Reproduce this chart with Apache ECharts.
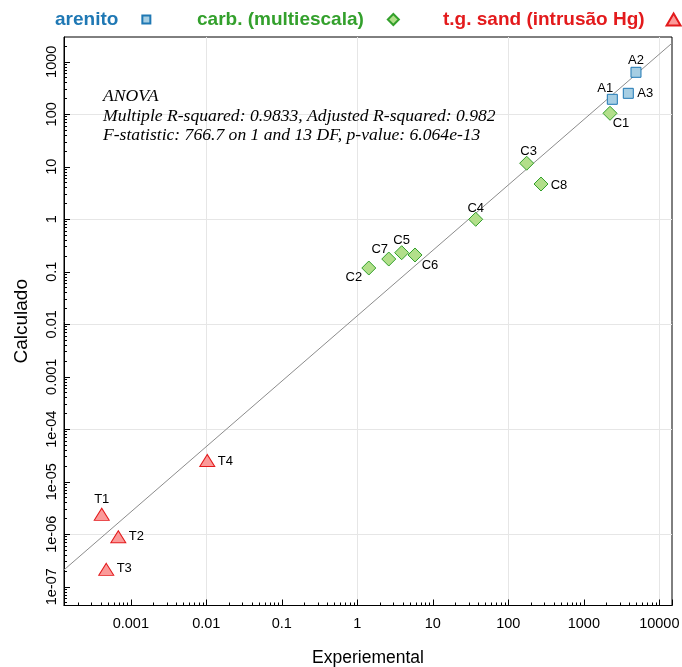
<!DOCTYPE html>
<html><head><meta charset="utf-8">
<script src="https://cdn.jsdelivr.net/npm/echarts@6/dist/echarts.min.js"></script>
<style>html,body{margin:0;padding:0;background:#fff}#c{width:682px;height:667px}</style>
</head><body><div id="c"></div>
<script>
// ---- data ----
const seriesNames = ['arenito', 'carb. (multiescala)', 't.g. sand (intrusão Hg)'];
const arenitoLabels = ['A1', 'A2', 'A3'];
const arenitoX = [2385, 4910, 3883];
const arenitoY = [193, 631, 251];
const carbLabels = ['C1', 'C2', 'C3', 'C4', 'C5', 'C6', 'C7', 'C8'];
const carbX = [2223, 1.42, 175, 37, 3.87, 5.81, 2.61, 271];
const carbY = [104.5, 0.118, 11.7, 1.0, 0.231, 0.209, 0.175, 4.7];
const sandLabels = ['T1', 'T2', 'T3', 'T4'];
const sandX = [4.12e-4, 6.83e-4, 4.73e-4, 0.0103];
const sandY = [2.4e-6, 9.0e-7, 2.15e-7, 2.55e-5];
const fitX = [1.304e-4, 14720];
const fitY = [2.1e-7, 2265];
const xTickLabels = ['0.001', '0.01', '0.1', '1', '10', '100', '1000', '10000'];
const yTickLabels = ['1e-07', '1e-06', '1e-05', '1e-04', '0.001', '0.01', '0.1', '1', '10', '100', '1000'];
const anovaLines = ['ANOVA', 'Multiple R-squared: 0.9833, Adjusted R-squared: 0.982', 'F-statistic: 766.7 on 1 and 13 DF, p-value: 6.064e-13'];
const xTitle = 'Experiemental';
const yTitle = 'Calculado';
const yRange = [4.40e-8, 2968];

// ---- styles ----
const labelOffset = {
  A1: [-7, -11], A2: [0, -12], A3: [17, 0],
  C1: [11, 10], C2: [-15, 9], C3: [2, -12], C4: [0, -11], C5: [0, -12], C6: [15, 10], C7: [-9, -10], C8: [18, 1],
  T1: [0, -15], T2: [18, 0], T3: [18, -1], T4: [18, 1]
};
const styles = [
  { symbol: 'rect', size: [10, 10], fill: '#a6cee3', stroke: '#1f78b4', text: '#1f78b4', legendLeft: 55, legendIcon: [8, 8], legendPad: 19 },
  { symbol: 'diamond', size: [14, 14], fill: '#b2df8a', stroke: '#33a02c', text: '#33a02c', legendLeft: 197, legendIcon: [11, 11], legendPad: 19 },
  { symbol: 'triangle', size: [15, 12], fill: '#fb9a99', stroke: '#e31a1c', text: '#e31a1c', legendLeft: 443, legendIcon: [14, 12], legendPad: 17 }
];
const font = '"Liberation Sans", Arial, sans-serif';

function pts(xs, ys, labels) {
  return xs.map((x, i) => ({
    value: [x, ys[i]], name: labels[i],
    label: { offset: labelOffset[labels[i]] }
  }));
}
function labelFor(list) {
  return function (v) {
    for (let i = 0; i < list.length; i++) {
      if (Math.abs(Math.log10(v) - Math.log10(Number(list[i]))) < 1e-6) return list[i];
    }
    return '';
  };
}
// minor tick positions (2..9 per decade) inside an axis range
function minorTicks(range) {
  const out = [];
  const e0 = Math.floor(Math.log10(range[0])), e1 = Math.ceil(Math.log10(range[1]));
  for (let e = e0; e <= e1; e++) {
    for (let m = 2; m <= 9; m++) {
      const v = parseFloat((m * Math.pow(10, e)).toPrecision(12));
      if (v > range[0] && v < range[1]) out.push(v);
    }
  }
  return out;
}
const yMajor = yTickLabels.map(Number);

const groups = [
  pts(arenitoX, arenitoY, arenitoLabels),
  pts(carbX, carbY, carbLabels),
  pts(sandX, sandY, sandLabels)
];

const scatterSeries = groups.map((d, k) => ({
  name: seriesNames[k], type: 'scatter', data: d, z: 5,
  symbol: styles[k].symbol, symbolSize: styles[k].size,
  itemStyle: { color: styles[k].fill, borderColor: styles[k].stroke, borderWidth: 1, opacity: 1 },
  label: { show: true, position: 'inside', formatter: '{b}', color: '#000', fontSize: 13, fontFamily: font, textBorderWidth: 0 },
  emphasis: { disabled: true }
}));

const legends = seriesNames.map((n, k) => ({
  left: styles[k].legendLeft, top: 10, padding: 0, orient: 'horizontal', align: 'right',
  itemWidth: styles[k].legendIcon[0], itemHeight: styles[k].legendIcon[1], selectedMode: false,
  textStyle: { fontSize: 19, fontWeight: 'bold', fontFamily: font, color: styles[k].text, padding: [0, styles[k].legendPad, 0, 0] },
  data: [{ name: n }]
}));

const yAxisCommon = {
  type: 'log', logBase: 10, min: yRange[0], max: yRange[1], position: 'left'
};

const chart = echarts.init(document.getElementById('c'), null, { renderer: 'canvas' });
chart.setOption({
  animation: false,
  backgroundColor: '#fff',
  grid: { left: 64, right: 10, top: 37, bottom: 61.5, containLabel: false, outerBoundsMode: 'none', show: true, borderColor: '#000', borderWidth: 1, backgroundColor: 'transparent' },
  legend: legends,
  xAxis: {
    type: 'log', logBase: 10, min: fitX[0], max: fitX[1], splitNumber: 8,
    name: xTitle, nameLocation: 'middle', nameGap: 44,
    nameTextStyle: { fontSize: 17.5, fontFamily: font, color: '#000' },
    axisLine: { show: true, onZero: false, lineStyle: { color: '#000', width: 1 } },
    axisTick: { show: true, inside: true, length: 6, lineStyle: { color: '#000' } },
    minorTick: { show: true, splitNumber: 9, length: 3, lineStyle: { color: '#000' } },
    axisLabel: { showMinLabel: false, showMaxLabel: false, margin: 11, fontSize: 14.5, fontFamily: font, color: '#000', formatter: labelFor(xTickLabels) },
    splitLine: { show: true, lineStyle: { color: ['#e6e6e6', 'rgba(0,0,0,0)'], width: 1 } }
  },
  yAxis: [Object.assign({}, yAxisCommon, {
    name: yTitle, nameLocation: 'middle', nameGap: 33,
    nameTextStyle: { fontSize: 19, fontFamily: font, color: '#000' },
    axisLine: { show: true, onZero: false, lineStyle: { color: '#000', width: 1 } },
    axisTick: { show: true, inside: true, length: 6, customValues: yMajor, lineStyle: { color: '#000' } },
    minorTick: { show: false },
    axisLabel: { rotate: 90, margin: 5, fontSize: 14.5, fontFamily: font, color: '#000', customValues: yMajor, formatter: labelFor(yTickLabels) },
    splitLine: { show: true, lineStyle: { color: ['rgba(0,0,0,0)', '#e6e6e6'], width: 1 } }
  }), Object.assign({}, yAxisCommon, {
    axisLine: { show: false },
    axisTick: { show: true, inside: true, length: 3, customValues: minorTicks(yRange), lineStyle: { color: '#000' } },
    minorTick: { show: false },
    axisLabel: { show: false },
    splitLine: { show: false }
  })],
  graphic: [{
    type: 'text', left: 103, top: 87, z: 10,
    style: { text: anovaLines.join('\n'), font: 'italic 17.6px "Liberation Serif", "Times New Roman", serif', fill: '#000', lineHeight: 19.3 }
  }],
  series: [{
    type: 'line', data: fitX.map((x, i) => [x, fitY[i]]), symbol: 'none', z: 2,
    lineStyle: { color: '#8c8c8c', width: 1 }, silent: true
  }].concat(scatterSeries)
});
</script>
</body></html>
